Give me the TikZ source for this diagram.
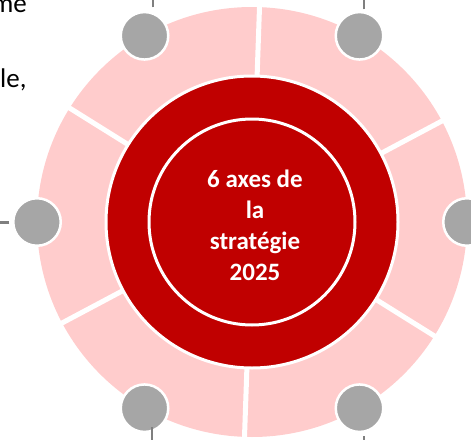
\documentclass[tikz,border=0pt]{standalone}
\usepackage{fontspec}
\setmainfont{Carlito}
\definecolor{ringpink}{RGB}{255,204,204}
\definecolor{darkred}{RGB}{192,0,0}
\definecolor{dotgray}{RGB}{166,166,166}
\definecolor{tickgray}{RGB}{127,127,127}
\tikzset{
  dotnode/.style={circle, minimum size=47.5pt, inner sep=0pt, fill=dotgray, draw=white, line width=2.5pt},
  sepline/.style={white, line width=5pt},
  tickline/.style={tickgray, line width=2pt},
  sidetext/.style={inner sep=0pt, font=\fontsize{27}{32}\selectfont, text=black},
  centertext/.style={align=center, inner sep=0pt, text=white, font=\bfseries\fontsize{25}{31}\selectfont}
}
\begin{document}
\begin{tikzpicture}[x=1pt,y=-1pt]
\useasboundingbox (0,0) rectangle (471,439);
\coordinate (c) at (252,222);
% pink ring
\fill[ringpink, even odd rule] (c) circle[radius=215pt] (c) circle[radius=130pt];
\foreach \a in {28,88,148,208,268,328}
  \draw[sepline] (c) ++(\a:130pt) -- ++(\a:90pt);
% red disk
\draw[white, line width=3pt, fill=darkred] (c) circle[radius=146pt];
\draw[white, line width=3pt] (c) circle[radius=103pt];
\node[centertext] (title) at (255,225) {6 axes de\\la\\stratégie\\2025};
% gray dots
\foreach \a/\n in {0/d0,60/d1,120/d2,180/d3,240/d4,300/d5}
  \path (c) ++(\a:215pt) node[dotnode] (\n) {};
% ticks
\coordinate (k1a) at (152.7,7.3); \coordinate (k1b) at (152.7,-5);
\coordinate (k2a) at (364.3,9.3); \coordinate (k2b) at (364.3,-5);
\coordinate (k3a) at (9.3,222.3); \coordinate (k3b) at (-5,222.3);
\coordinate (k4a) at (152,427); \coordinate (k4b) at (152,445);
\coordinate (k5a) at (364,436); \coordinate (k5b) at (364,445);
\draw[tickline] (k1a) -- (k1b);
\draw[tickline] (k2a) -- (k2b);
\draw[tickline, line width=3pt] (k3a) -- (k3b);
\draw[tickline] (k4a) -- (k4b);
\draw[tickline] (k5a) -- (k5b);
% side text fragments
\node[sidetext, anchor=base east] (s1) at (27,12.5) {me};
\node[sidetext, anchor=base west] (s2) at (0,87) {le,};
\end{tikzpicture}
\end{document}
